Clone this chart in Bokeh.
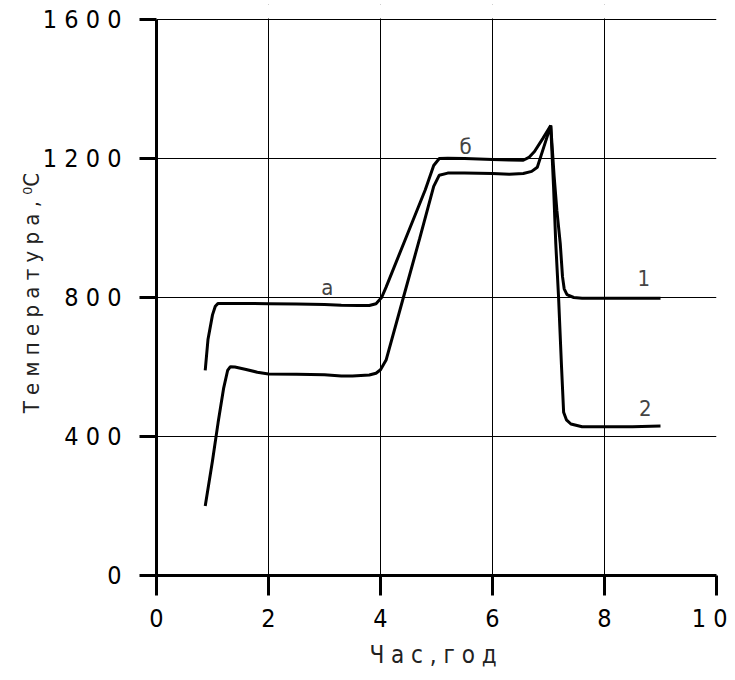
from bokeh.plotting import figure
from bokeh.models import Range1d, FixedTicker, Label, BoxAnnotation
from bokeh.embed import file_html
from bokeh.resources import INLINE

# ---- data ----
x_ticks = [0, 2, 4, 6, 8, 10]
x_tick_labels = ["0", "2", "4", "6", "8", "10"]
y_ticks = [0, 400, 800, 1200, 1600]
y_tick_labels = ["0", "400", "800", "1200", "1600"]

# curve 1 (upper)
t1 = [0.87, 0.92, 1.0, 1.05, 1.1, 1.2, 1.5, 2.0, 2.5, 3.0, 3.3, 3.6, 3.8,
      3.92, 4.02, 4.1, 4.5, 4.8, 4.95, 5.05, 5.2, 5.5, 6.0, 6.3, 6.55,
      6.65, 6.75, 6.9, 7.04, 7.1, 7.15, 7.21, 7.25, 7.28, 7.33, 7.45,
      7.6, 8.0, 8.5, 9.0]
temp1 = [590, 680, 750, 775, 783, 783, 783, 782, 781, 780, 778, 777, 777,
         782, 800, 830, 990, 1110, 1180, 1200, 1201, 1200, 1197, 1196, 1195,
         1203, 1220, 1258, 1295, 1150, 1050, 955, 860, 825, 808, 800,
         798, 798, 798, 798]

# curve 2 (lower)
t2 = [0.87, 1.0, 1.1, 1.2, 1.27, 1.32, 1.4, 1.6, 1.8, 2.0, 2.5, 3.0, 3.3,
      3.5, 3.8, 3.92, 4.0, 4.1, 4.4, 4.7, 4.95, 5.05, 5.2, 5.5, 6.0, 6.3,
      6.55, 6.7, 6.8, 6.92, 7.04, 7.09, 7.13, 7.18, 7.23, 7.27, 7.32, 7.4,
      7.6, 8.0, 8.5, 9.0]
temp2 = [200, 330, 440, 540, 590, 601, 600, 593, 585, 580, 579, 578, 574,
         574, 577, 582, 592, 620, 795, 970, 1120, 1152, 1158, 1158, 1157, 1155,
         1157, 1163, 1175, 1235, 1295, 1120, 955, 800, 610, 470, 448, 436,
         428, 428, 428, 430]

# annotations
note_text = ["а", "б", "1", "2"]
note_x = [3.05, 5.52, 8.7, 8.73]
note_y = [829, 1234, 856, 481]

FONT = "'DejaVu Sans Condensed', 'Liberation Sans Narrow', 'DejaVu Sans'"


def spaced(s):
    return " ".join(s)


y_top = max(y_ticks)
# a little head room above the top tick so its label stays in line
p = figure(width=727, height=672, x_range=Range1d(0, 10),
           y_range=Range1d(0, y_top * 1.027),
           output_backend="svg", toolbar_location=None,
           min_border_left=156, min_border_right=11, min_border_top=4,
           min_border_bottom=97)
p.outline_line_color = None
p.background_fill_color = "white"

p.xaxis.ticker = FixedTicker(ticks=x_ticks)
p.yaxis.ticker = FixedTicker(ticks=y_ticks)
p.xgrid.ticker = FixedTicker(ticks=x_ticks)
p.ygrid.ticker = FixedTicker(ticks=y_ticks)
p.yaxis.bounds = (0, y_top)
p.xaxis.major_label_overrides = {k: spaced(v) for k, v in zip(x_ticks, x_tick_labels)}
p.yaxis.major_label_overrides = {k: spaced(v) for k, v in zip(y_ticks, y_tick_labels)}

for g in (p.xgrid, p.ygrid):
    g.grid_line_color = "black"
    g.grid_line_width = 1
    g.grid_line_alpha = 1.0

for ax in (p.xaxis, p.yaxis):
    ax.axis_line_width = 3
    ax.axis_line_color = "black"
    ax.major_tick_line_width = 3
    ax.major_tick_line_color = "black"
    ax.major_tick_in = 0
    ax.minor_tick_line_color = None
    ax.major_label_text_font = FONT
    ax.major_label_text_font_size = "25px"
    ax.major_label_text_color = "black"
    ax.axis_label_text_font = FONT
    ax.axis_label_text_font_style = "normal"
    ax.axis_label_text_color = "#222222"

p.xaxis.axis_label_text_font_size = "24px"
p.yaxis.axis_label_text_font_size = "22px"
p.xaxis.major_tick_out = 20
p.yaxis.major_tick_out = 17
p.xaxis.major_label_standoff = 8
p.yaxis.major_label_standoff = 18
p.xaxis.axis_label = "Ч а с ,  г о д"
p.yaxis.axis_label = "Т е м п е р а т у р а ,  ⁰С"
p.xaxis.axis_label_standoff = 5
p.yaxis.axis_label_standoff = -4

# white mask over the head room so the grid stops at the top tick
p.add_layout(BoxAnnotation(bottom=y_top * 1.002, fill_color="white", fill_alpha=1.0,
                           line_color=None, level="underlay"))

p.line(t1, temp1, line_color="black", line_width=3)
p.line(t2, temp2, line_color="black", line_width=3)

for txt, x, y in zip(note_text, note_x, note_y):
    p.add_layout(Label(x=x, y=y, text=txt, text_font=FONT, text_font_size="22px",
                       text_color="#444444", text_align="center",
                       text_baseline="middle"))

open("out.html", "w").write(file_html(p, INLINE))
